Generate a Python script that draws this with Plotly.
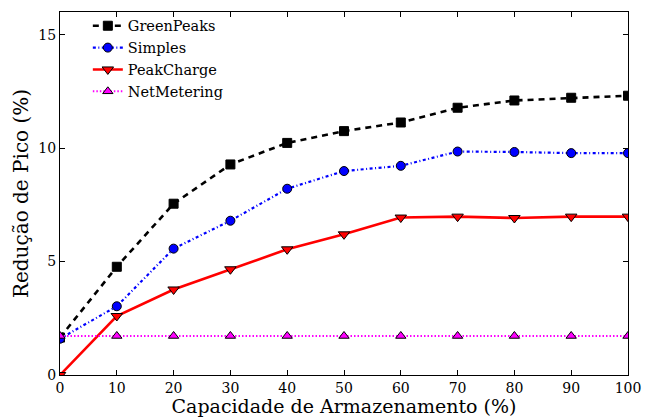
import plotly.graph_objects as go

# Storage capacity (%) on the x axis
capacidade = [0, 10, 20, 30, 40, 50, 60, 70, 80, 90, 100]

# Peak reduction (%) for each strategy
green_peaks = [1.65, 4.77, 7.55, 9.28, 10.23, 10.75, 11.13, 11.78, 12.10, 12.22, 12.31]
simples = [1.60, 3.03, 5.57, 6.80, 8.21, 8.99, 9.22, 9.85, 9.83, 9.78, 9.78]
peak_charge = [0.0, 2.60, 3.77, 4.66, 5.54, 6.20, 6.94, 6.98, 6.92, 6.98, 6.98]
net_metering = [1.72] * 11

x_ticks = [0, 10, 20, 30, 40, 50, 60, 70, 80, 90, 100]
y_ticks = [0, 5, 10, 15]

FONT = "'DejaVu Serif', serif"

series = [
    ("GreenPeaks", green_peaks, "black", "6px,5px", "square", 9, 2.6),
    ("Simples", simples, "blue", "3px,2.5px,1px,2.5px", "circle", 9, 2.2),
    ("PeakCharge", peak_charge, "red", "solid", "triangle-down", 10, 2.6),
    ("NetMetering", net_metering, "magenta", "1.5px,2px", "triangle-up", 9, 2.0),
]

fig = go.Figure()
for name, values, color, dash, symbol, size, width in series:
    fig.add_trace(go.Scatter(
        x=capacidade, y=values, name=name, mode="lines+markers",
        line=dict(color=color, dash=dash, width=width),
        marker=dict(symbol=symbol, size=size, color=color,
                    line=dict(color="black", width=1)),
    ))

axis_common = dict(
    showline=True, linecolor="black", linewidth=1, mirror="ticks",
    ticks="inside", ticklen=5, tickwidth=1, tickcolor="black",
    showgrid=False, zeroline=False, automargin=False,
    tickfont=dict(family=FONT, size=14, color="black"),
)

fig.update_xaxes(
    range=[0, 100], tickvals=x_ticks,
    title=dict(text="Capacidade de Armazenamento (%)",
               font=dict(family=FONT, size=19, color="black"), standoff=4),
    **axis_common,
)
fig.update_yaxes(
    range=[0, 16], tickvals=y_ticks,
    title=dict(text="Redução de Pico (%)",
               font=dict(family=FONT, size=20, color="black"), standoff=4),
    **axis_common,
)

fig.update_layout(
    width=645, height=417,
    margin=dict(l=60, r=17, t=12, b=42, autoexpand=False),
    paper_bgcolor="white", plot_bgcolor="white",
    font=dict(family=FONT, color="black"),
    showlegend=True,
    legend=dict(
        x=0.049, y=1.006, xanchor="left", yanchor="top",
        bgcolor="rgba(0,0,0,0)", borderwidth=0,
        font=dict(family=FONT, size=14.5, color="black"),
        tracegroupgap=0, itemwidth=30,
    ),
)

fig.write_html("out.html")
